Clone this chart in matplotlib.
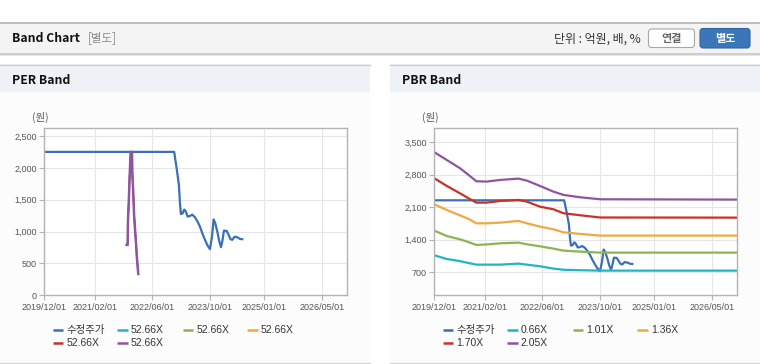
import numpy as np
import pandas as pd
import matplotlib
matplotlib.use("Agg")
import matplotlib.pyplot as plt
import matplotlib.dates as mdates
from matplotlib.patches import Rectangle, FancyBboxPatch

plt.rcParams['font.family'] = ['Liberation Sans', 'Noto Sans CJK KR', 'DejaVu Sans']
KR = ['Noto Sans CJK KR', 'DejaVu Sans']

# ---- data ----
# 수정주가 (adjusted price), shared by both charts
price_dates = ["2019-12-01", "2022-12-01", "2022-12-22", "2023-01-10", "2023-01-19",
               "2023-01-27", "2023-02-10", "2023-02-24", "2023-03-08", "2023-03-25",
               "2023-04-13", "2023-05-03", "2023-05-25", "2023-06-17", "2023-07-07",
               "2023-07-26", "2023-08-18", "2023-09-06", "2023-09-29", "2023-10-16",
               "2023-10-30", "2023-11-13", "2023-11-30", "2023-12-17", "2023-12-31",
               "2024-01-11", "2024-01-25", "2024-02-17", "2024-03-05", "2024-03-21",
               "2024-04-04", "2024-04-24", "2024-05-17", "2024-06-08", "2024-06-28"]
price_vals = [2250, 2250, 1990, 1730, 1440,
              1275, 1285, 1345, 1320, 1235,
              1245, 1265, 1225, 1155, 1075,
              975, 870, 790, 725, 920,
              1190, 1130, 1000, 845, 755,
              845, 1015, 1010, 945, 880,
              870, 920, 910, 885, 880]

# PER band: all five multiples are 52.66X, so the lines coincide
per_labels = ["52.66X", "52.66X", "52.66X", "52.66X", "52.66X"]
per_dates = ["2021-10-26", "2021-11-03", "2021-11-06", "2021-11-14", "2021-11-20",
             "2021-11-29", "2021-12-10", "2021-12-13", "2021-12-21", "2021-12-27",
             "2022-01-04", "2022-01-13", "2022-01-21", "2022-02-01"]
per_vals = [790, 790, 1155, 1520, 1860,
            2250, 2250, 1910, 1600, 1285,
            1050, 815, 580, 335]

# PBR band
pbr_labels = ["0.66X", "1.01X", "1.36X", "1.70X", "2.05X"]
pbr_dates = ["2019-12-01", "2020-03-15", "2020-07-05", "2020-09-15", "2020-11-20",
             "2021-02-15", "2021-06-10", "2021-11-10", "2022-01-20", "2022-05-10",
             "2022-09-01", "2022-11-25", "2023-04-15", "2023-10-01", "2026-12-01"]
pbr_066 = [1066, 987, 940, 900, 865, 865, 865, 887, 865, 830, 780, 755, 745, 736, 736]
pbr_101 = [1597, 1482, 1410, 1350, 1289, 1300, 1325, 1339, 1303, 1260, 1210, 1167, 1145, 1124, 1124]
pbr_136 = [2164, 2042, 1925, 1850, 1755, 1755, 1770, 1806, 1755, 1684, 1626, 1562, 1526, 1490, 1490]
pbr_170 = [2724, 2560, 2400, 2294, 2200, 2200, 2236, 2258, 2222, 2114, 2057, 1971, 1928, 1880, 1877]
pbr_205 = [3285, 3119, 2940, 2796, 2660, 2653, 2689, 2717, 2674, 2560, 2437, 2366, 2315, 2272, 2265]

tick_dates = ["2019-12-01", "2021-02-01", "2022-06-01", "2023-10-01", "2025-01-01", "2026-05-01"]
per_yticks = [0, 500, 1000, 1500, 2000, 2500]
pbr_yticks = [700, 1400, 2100, 2800, 3500]

price_label = "수정주가"
price_color = "#3a70b8"
band_colors = ["#22b4c6", "#8cb450", "#f0a840", "#c83228", "#8e55a0"]

# ---- figure ----
W, H = 760, 364
fig = plt.figure(figsize=(W / 100, H / 100), dpi=100)
bg = fig.add_axes([0, 0, 1, 1], zorder=-10)
bg.set_xlim(0, W); bg.set_ylim(H, 0); bg.axis("off")

# page header
bg.add_patch(Rectangle((0, 22), W, 31, fc="#f4f4f4", ec="none"))
bg.plot([0, W], [22.5, 22.5], color="#b4b4b4", lw=1.2)
bg.plot([0, W], [53.5, 53.5], color="#c4c4c4", lw=1.2)
bg.plot([0, W], [54.5, 54.5], color="#e4e4e4", lw=0.8)
bg.text(12, 38, "Band Chart", fontsize=8.8, fontweight="bold", color="#111",
        va="center", family=KR)
bg.text(88, 38, "[별도]", fontsize=8.3, color="#8a8a8a", va="center", family=KR)
bg.text(641, 39, "단위 : 억원, 배, %", fontsize=8.6, color="#333", va="center",
        ha="right", family=KR)
bg.add_patch(FancyBboxPatch((648.5, 29), 46, 18.5, boxstyle="round,pad=0,rounding_size=3",
                            fc="white", ec="#a8a8a8", lw=0.8))
bg.text(671.5, 38.5, "연결", fontsize=8, fontweight="bold", color="#666",
        ha="center", va="center", family=KR)
bg.add_patch(FancyBboxPatch((700, 28.5), 50, 19.5, boxstyle="round,pad=0,rounding_size=3",
                            fc="#3a76b8", ec="#2f66a6", lw=0.8))
bg.text(725, 38.5, "별도", fontsize=8, fontweight="bold", color="white",
        ha="center", va="center", family=KR)


def panel(x0, x1, title):
    bg.add_patch(Rectangle((x0, 64), x1 - x0, 28, fc="#eef1f6", ec="none"))
    bg.add_patch(Rectangle((x0, 92), x1 - x0, 270, fc="#fcfcfc", ec="none"))
    bg.plot([x0, x1], [64.5, 64.5], color="#cfcfcf", lw=1)
    bg.plot([x0, x1], [362.5, 362.5], color="#d6d6d6", lw=1)
    bg.text(x0 + 12, 80, title, fontsize=8.8, fontweight="bold", color="#111",
            va="center", family=KR)
    bg.text(x0 + 40, 117, "(원)", fontsize=7.5, color="#555", ha="center",
            va="center", family=KR)


panel(0, 370, "PER Band")
panel(390, 760, "PBR Band")


def setup_axes(rect, ylim, yticks):
    ax = fig.add_axes(rect)
    ax.set_facecolor("white")
    ax.set_xlim(pd.Timestamp("2019-12-01"), pd.Timestamp("2026-12-01"))
    ax.set_ylim(*ylim)
    ax.set_xticks(pd.to_datetime(tick_dates))
    ax.xaxis.set_major_formatter(mdates.DateFormatter("%Y/%m/%d"))
    ax.set_yticks(yticks)
    ax.set_yticklabels([f"{v:,}" for v in yticks])
    ax.grid(True, color="#e6e6e6", lw=0.8)
    ax.set_axisbelow(True)
    for s in ax.spines.values():
        s.set_color("#b4b4b4")
        s.set_linewidth(1)
    ax.tick_params(colors="#b4b4b4", labelcolor="#555", labelsize=6.5,
                   length=3.5, width=0.8, pad=2)
    return ax


def legend_row(x0, labels, colors):
    cols = [0, 64.6, 130, 194.6]
    for i, (lab, c) in enumerate(zip(labels, colors)):
        r, k = divmod(i, 4)
        y = 330 + r * 13.3
        x = x0 + cols[k]
        bg.plot([x, x + 10.5], [y, y], color=c, lw=1.8, solid_capstyle="butt")
        bg.text(x + 13.5, y, lab, fontsize=7.5, color="#333", va="center",
                family=['Liberation Sans', 'Noto Sans CJK KR'])


# PER
ax1 = setup_axes([44.3 / W, 1 - 295.3 / H, 303 / W, 167 / H], (0, 2620), per_yticks)
ax1.plot(pd.to_datetime(price_dates), price_vals, color=price_color, lw=1.6)
# coinciding bands: the last one (purple) covers the others
for i, c in enumerate(band_colors):
    ax1.plot(pd.to_datetime(per_dates), per_vals, color=c,
             lw=1.8 if i == len(band_colors) - 1 else 1.0)
legend_row(52.7, [price_label] + per_labels, [price_color] + band_colors)

# PBR
ax2 = setup_axes([434.3 / W, 1 - 295.3 / H, 303 / W, 167 / H], (205, 3800), pbr_yticks)
ax2.plot(pd.to_datetime(price_dates), price_vals, color=price_color, lw=1.6)
for vals, c in zip([pbr_066, pbr_101, pbr_136, pbr_170, pbr_205], band_colors):
    ax2.plot(pd.to_datetime(pbr_dates), vals, color=c, lw=1.6)
legend_row(442.7, [price_label] + pbr_labels, [price_color] + band_colors)

fig.savefig("out.png", dpi=100)
